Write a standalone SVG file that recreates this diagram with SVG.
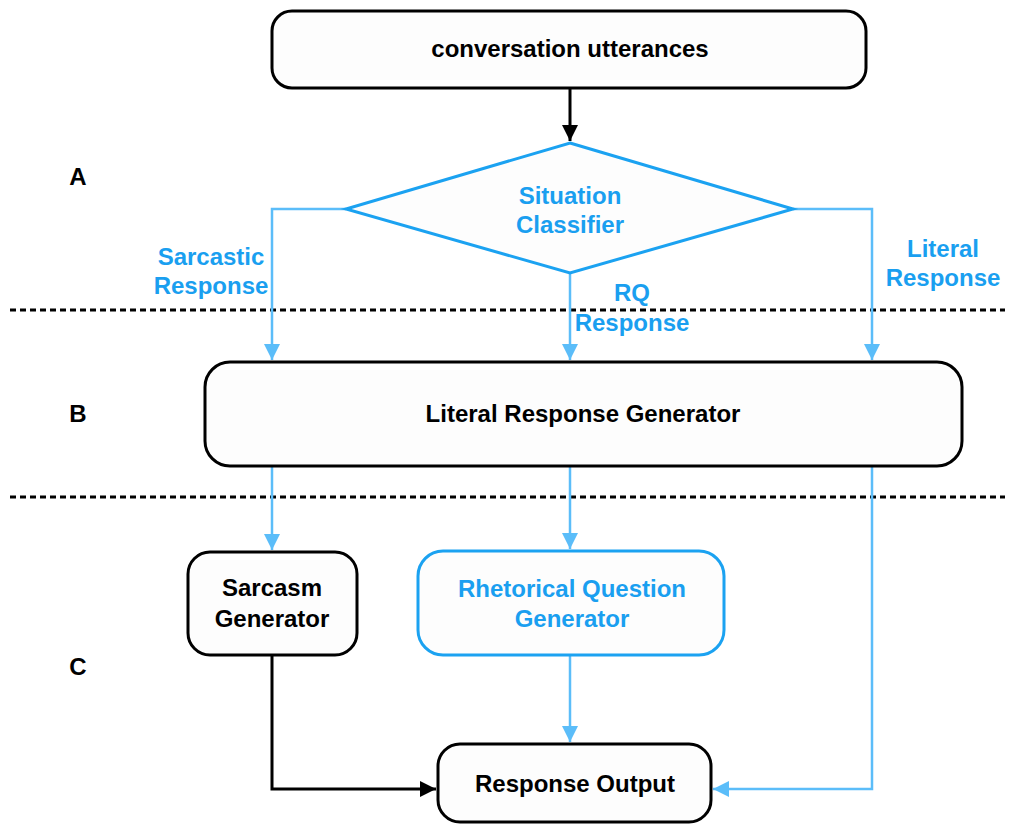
<svg xmlns="http://www.w3.org/2000/svg" width="1010" height="824" viewBox="0 0 1010 824">
  <defs>
    <marker id="ahBlack" viewBox="0 0 10 10" refX="10" refY="5" markerWidth="5.5" markerHeight="5.5" orient="auto" markerUnits="strokeWidth">
      <path d="M0,0 L10,5 L0,10 z" fill="#000"/>
    </marker>
    <marker id="ahBlue" viewBox="0 0 10 10" refX="10" refY="5" markerWidth="6.5" markerHeight="6.5" orient="auto" markerUnits="strokeWidth">
      <path d="M0,0 L10,5 L0,10 z" fill="#5bbdf9"/>
    </marker>
    <style>
      .box { fill: #fdfdfd; stroke: #000; stroke-width: 3; }
      .boxBlue { fill: #fdfdfd; stroke: #1ba2f1; stroke-width: 3; }
      .lbl { font-family: "Liberation Sans", Arial, sans-serif; font-weight: bold; font-size: 24px; text-anchor: middle; }
      .dark { fill: #000; }
      .blue { fill: #1a9ff0; }
      .sep { stroke: #000; stroke-width: 3; stroke-dasharray: 6 4; fill: none; }
      .edgeBlack { stroke: #000; stroke-width: 3; fill: none; }
      .edgeBlue { stroke: #5bbdf9; stroke-width: 2.5; fill: none; }
    </style>
  </defs>
  <rect width="1010" height="824" fill="#fff"/>

  <!-- stage separators -->
  <line class="sep" x1="10" y1="310" x2="1005" y2="310"/>
  <line class="sep" x1="10" y1="497" x2="1005" y2="497"/>

  <!-- stage letters -->
  <text class="lbl dark" x="78" y="185">A</text>
  <text class="lbl dark" x="78" y="422">B</text>
  <text class="lbl dark" x="78" y="675">C</text>

  <g id="connectors">
    <path class="edgeBlack" d="M570,88 V141" marker-end="url(#ahBlack)"/>
    <path class="edgeBlue" d="M346,209 H272 V360" marker-end="url(#ahBlue)"/>
    <path class="edgeBlue" d="M570,273 V360" marker-end="url(#ahBlue)"/>
    <path class="edgeBlue" d="M793,209 H872 V360" marker-end="url(#ahBlue)"/>
    <path class="edgeBlue" d="M272,466 V550" marker-end="url(#ahBlue)"/>
    <path class="edgeBlue" d="M570,466 V549" marker-end="url(#ahBlue)"/>
    <path class="edgeBlue" d="M872,466 V789 H713" marker-end="url(#ahBlue)"/>
    <path class="edgeBlue" d="M570,655 V742" marker-end="url(#ahBlue)"/>
    <path class="edgeBlack" d="M272,655 V789 H436" marker-end="url(#ahBlack)"/>
    <!-- edge labels -->
    <text class="lbl blue" x="211" y="265">Sarcastic</text>
    <text class="lbl blue" x="211" y="294">Response</text>
    <text class="lbl blue" x="943" y="257">Literal</text>
    <text class="lbl blue" x="943" y="286">Response</text>
    <text class="lbl blue" x="632" y="301">RQ</text>
    <text class="lbl blue" x="632" y="331">Response</text>
  </g>

  <g id="utterances">
    <rect class="box" x="272" y="11" width="594" height="77" rx="20"/>
    <text class="lbl dark" x="570" y="57">conversation utterances</text>
  </g>

  <g id="classifier">
    <polygon class="boxBlue" points="570,143 793,209 570,273 346,209"/>
    <text class="lbl blue" x="570" y="204">Situation</text>
    <text class="lbl blue" x="570" y="233">Classifier</text>
  </g>

  <g id="literal-generator">
    <rect class="box" x="205" y="362" width="757" height="104" rx="25"/>
    <text class="lbl dark" x="583" y="422">Literal Response Generator</text>
  </g>

  <g id="sarcasm-generator">
    <rect class="box" x="188" y="552" width="169" height="103" rx="22"/>
    <text class="lbl dark" x="272" y="596">Sarcasm</text>
    <text class="lbl dark" x="272" y="627">Generator</text>
  </g>

  <g id="rq-generator">
    <rect class="boxBlue" x="418" y="551" width="306" height="104" rx="25"/>
    <text class="lbl blue" x="572" y="597">Rhetorical Question</text>
    <text class="lbl blue" x="572" y="627">Generator</text>
  </g>

  <g id="response-output">
    <rect class="box" x="438" y="744" width="273" height="78" rx="22"/>
    <text class="lbl dark" x="575" y="792">Response Output</text>
  </g>
</svg>
